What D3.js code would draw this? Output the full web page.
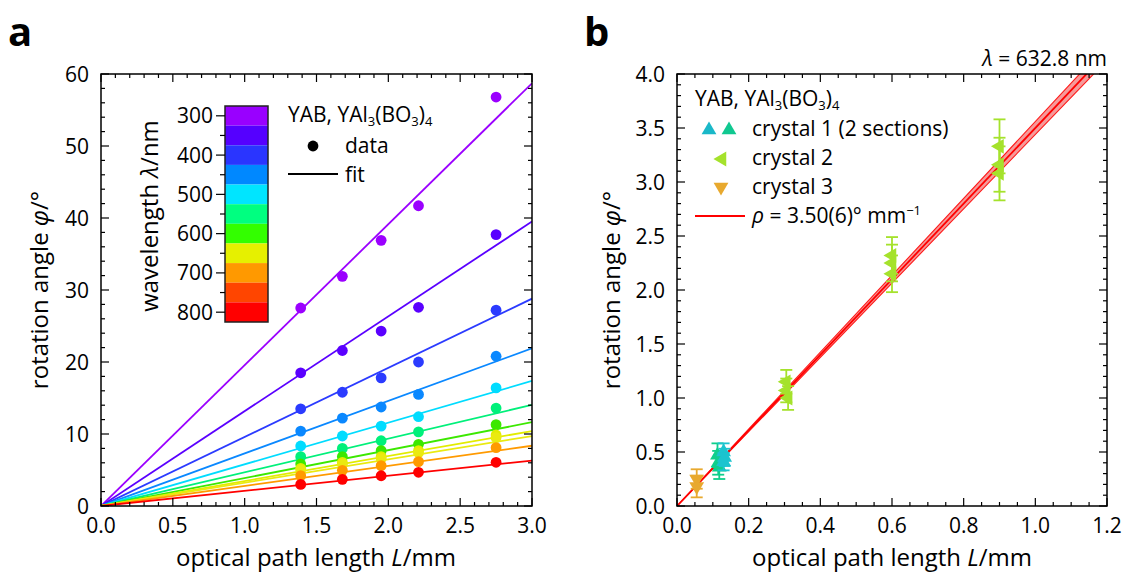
<!DOCTYPE html>
<html>
<head>
<meta charset="utf-8">
<script src="https://cdn.jsdelivr.net/npm/d3@7"></script>
<style>
  body { margin: 0; background: #fff; }
  svg text { font-family: "Open Sans", "Noto Sans", sans-serif; fill: #000; }
</style>
</head>
<body>
<div id="chart"></div>
<script>
// ---- panel a data ----
const wavelengthTicks = [300, 400, 500, 600, 700, 800];
const barColors = ["#9900ff", "#5500ff", "#2a35ff", "#0088ff", "#00e5ff", "#00ff80",
                   "#33ff00", "#e6f000", "#ff9900", "#ff4500", "#ff0000"];
const pathLengthsA = [1.39, 1.68, 1.95, 2.21, 2.75];
const seriesColors = ["#9b00ff", "#5a00ff", "#2b3bff", "#0a88ff", "#00dcff", "#00f07a",
                      "#3ce800", "#e2ec00", "#eaea10", "#ff9a00", "#ff0000"];
const rotationA = [
  [27.5, 31.9, 36.9, 41.7, 56.8],
  [18.5, 21.6, 24.3, 27.6, 37.7],
  [13.5, 15.8, 17.8, 20.0, 27.2],
  [10.4, 12.2, 13.75, 15.5, 20.8],
  [8.33, 9.72, 11.1, 12.4, 16.4],
  [6.85, 8.0, 9.07, 10.3, 13.6],
  [5.83, 6.85, 7.69, 8.56, 11.3],
  [5.23, 6.07, 6.85, 7.69, 9.86],
  [5.0, 5.8, 6.6, 7.4, 9.5],
  [4.21, 4.95, 5.6, 6.16, 8.1],
  [3.0, 3.7, 4.2, 4.68, 6.07]
];
const fitSlopes = [19.57, 13.17, 9.6, 7.3, 5.79, 4.68, 3.88, 3.47, 3.24, 2.79, 2.1];

// ---- panel b data ----
const crystal1aL = [0.113, 0.115, 0.118];
const crystal1aPhi = [0.47, 0.40, 0.36];
const crystal1aErr = [0.11, 0.11, 0.11];
const crystal1bL = [0.13, 0.133, 0.13];
const crystal1bPhi = [0.50, 0.45, 0.41];
const crystal1bErr = [0.08, 0.08, 0.08];
const crystal2L = [0.305, 0.305, 0.31, 0.6, 0.6, 0.6, 0.9, 0.9, 0.9];
const crystal2Phi = [1.15, 1.07, 1.0, 2.32, 2.25, 2.15, 3.33, 3.16, 3.08];
const crystal2Err = [0.11, 0.11, 0.11, 0.17, 0.17, 0.17, 0.25, 0.25, 0.25];
const crystal3L = [0.055, 0.055];
const crystal3Phi = [0.25, 0.18];
const crystal3Err = [0.09, 0.1];
const rho = 3.50, rhoErr = 0.06;

const tickSize = 21, legendSize = 21, titleSize = 24;

const svg = d3.select("#chart").append("svg")
  .attr("width", 1124).attr("height", 576);

// framed box with inward ticks on all four sides
function frame(g, x, y, xMinor, yMinor, w, h) {
  xMinor.forEach(v => {
    const major = Math.abs(v / g.xStep - Math.round(v / g.xStep)) < 1e-6;
    const len = major ? 8 : 4;
    g.append("line").attr("x1", x(v)).attr("x2", x(v)).attr("y1", h).attr("y2", h - len)
      .attr("stroke", "#000").attr("stroke-width", 1.2);
    g.append("line").attr("x1", x(v)).attr("x2", x(v)).attr("y1", 0).attr("y2", len)
      .attr("stroke", "#000").attr("stroke-width", 1.2);
  });
  yMinor.forEach(v => {
    const major = Math.abs(v / g.yStep - Math.round(v / g.yStep)) < 1e-6;
    const len = major ? 8 : 4;
    g.append("line").attr("y1", y(v)).attr("y2", y(v)).attr("x1", 0).attr("x2", len)
      .attr("stroke", "#000").attr("stroke-width", 1.2);
    g.append("line").attr("y1", y(v)).attr("y2", y(v)).attr("x1", w).attr("x2", w - len)
      .attr("stroke", "#000").attr("stroke-width", 1.2);
  });
  g.append("rect").attr("width", w).attr("height", h)
    .attr("fill", "none").attr("stroke", "#000").attr("stroke-width", 1.5);
}

function tickLabels(g, x, y, xMajor, yMajor, h, fmtX, fmtY) {
  xMajor.forEach(v => {
    g.append("text").attr("x", x(v)).attr("y", h + 27).attr("text-anchor", "middle")
      .attr("font-size", tickSize).text(fmtX(v));
  });
  yMajor.forEach(v => {
    g.append("text").attr("x", -12).attr("y", y(v)).attr("dy", "0.36em")
      .attr("text-anchor", "end").attr("font-size", tickSize).text(fmtY(v));
  });
}

function yabTitle(sel, x, y) {
  const t = sel.append("text").attr("x", x).attr("y", y).attr("font-size", legendSize);
  t.append("tspan").text("YAB, YAl");
  t.append("tspan").attr("font-size", 13).attr("dy", 4).text("3");
  t.append("tspan").attr("dy", -4).text("(BO");
  t.append("tspan").attr("font-size", 13).attr("dy", 4).text("3");
  t.append("tspan").attr("dy", -4).text(")");
  t.append("tspan").attr("font-size", 13).attr("dy", 4).text("4");
}

// ================= panel a =================
const aW = 431, aH = 432;
const ga = svg.append("g").attr("transform", "translate(101,74)");
const xa = d3.scaleLinear().domain([0, 3]).range([0, aW]);
const ya = d3.scaleLinear().domain([0, 60]).range([aH, 0]);
ga.xStep = 0.5; ga.yStep = 10;

ga.append("clipPath").attr("id", "clipA").append("rect").attr("width", aW).attr("height", aH);

// fit lines
ga.append("g").attr("clip-path", "url(#clipA)")
  .selectAll("line").data(fitSlopes).enter().append("line")
  .attr("x1", xa(0)).attr("y1", ya(0))
  .attr("x2", xa(3)).attr("y2", d => ya(d * 3))
  .attr("stroke", (d, i) => seriesColors[i]).attr("stroke-width", 1.8);

// data points
rotationA.forEach((row, i) => {
  ga.append("g").selectAll("circle").data(row).enter().append("circle")
    .attr("cx", (d, j) => xa(pathLengthsA[j])).attr("cy", d => ya(d))
    .attr("r", 5.4).attr("fill", seriesColors[i]);
});

frame(ga, xa, ya, d3.range(0, 3.0001, 0.1).map(v => +v.toFixed(2)),
      d3.range(0, 60.001, 2), aW, aH);
tickLabels(ga, xa, ya, d3.range(0, 3.0001, 0.5), d3.range(0, 60.001, 10), aH,
           d3.format(".1f"), d3.format("d"));

// colorbar
const cb = svg.append("g").attr("transform", "translate(225,106)");
const cbH = 216, cbW = 43;
const yc = d3.scaleLinear().domain([275, 825]).range([0, cbH]);
cb.selectAll("rect.seg").data(barColors).enter().append("rect")
  .attr("class", "seg")
  .attr("x", 0).attr("width", cbW)
  .attr("y", (d, i) => yc(275 + i * 50)).attr("height", yc(325) - yc(275))
  .attr("fill", d => d);
cb.append("rect").attr("width", cbW).attr("height", cbH)
  .attr("fill", "none").attr("stroke", "#222").attr("stroke-width", 1.5);
d3.range(300, 801, 50).forEach(v => {
  const major = v % 100 === 0;
  cb.append("line").attr("x1", major ? -9 : -5).attr("x2", 0)
    .attr("y1", yc(v)).attr("y2", yc(v)).attr("stroke", "#000").attr("stroke-width", 1.2);
});
cb.selectAll("text.wl").data(wavelengthTicks).enter().append("text")
  .attr("class", "wl").attr("x", -12).attr("y", d => yc(d)).attr("dy", "0.36em")
  .attr("text-anchor", "end").attr("font-size", tickSize).text(d => d);

const wlLabel = svg.append("text")
  .attr("transform", "translate(158,216) rotate(-90)")
  .attr("text-anchor", "middle").attr("font-size", titleSize);
wlLabel.append("tspan").text("wavelength ");
wlLabel.append("tspan").attr("font-style", "italic").text("λ");
wlLabel.append("tspan").text("/nm");

// legend a
yabTitle(svg, 288, 122);
svg.append("circle").attr("cx", 313).attr("cy", 146).attr("r", 5.4).attr("fill", "#000");
svg.append("text").attr("x", 345).attr("y", 153).attr("font-size", legendSize).text("data");
svg.append("line").attr("x1", 288).attr("x2", 338).attr("y1", 174).attr("y2", 174)
  .attr("stroke", "#000").attr("stroke-width", 1.8);
svg.append("text").attr("x", 345).attr("y", 182).attr("font-size", legendSize).text("fit");

// ================= panel b =================
const bW = 430, bH = 432;
const gb = svg.append("g").attr("transform", "translate(677,74)");
const xb = d3.scaleLinear().domain([0, 1.2]).range([0, bW]);
const yb = d3.scaleLinear().domain([0, 4]).range([bH, 0]);
gb.xStep = 0.2; gb.yStep = 0.5;

gb.append("clipPath").attr("id", "clipB").append("rect").attr("width", bW).attr("height", bH);
const fitG = gb.append("g").attr("clip-path", "url(#clipB)");
fitG.append("path")
  .datum([[0, 0], [1.2, 1.2 * (rho + rhoErr)], [1.2, 1.2 * (rho - rhoErr)]])
  .attr("d", d => "M" + d.map(p => [xb(p[0]), yb(p[1])].join(",")).join("L") + "Z")
  .attr("fill", "#f59a9a").attr("stroke", "#ff1a1a").attr("stroke-width", 1.1);
fitG.append("line").attr("x1", xb(0)).attr("y1", yb(0))
  .attr("x2", xb(1.2)).attr("y2", yb(1.2 * rho))
  .attr("stroke", "#ff0000").attr("stroke-width", 1.8);

const tri = d3.symbol().type(d3.symbolTriangle).size(95);

function errorSeries(L, phi, err, color, rotate) {
  const g = gb.append("g");
  L.forEach((l, i) => {
    const cx = xb(l);
    g.append("line").attr("x1", cx).attr("x2", cx)
      .attr("y1", yb(phi[i] - err[i])).attr("y2", yb(phi[i] + err[i]))
      .attr("stroke", color).attr("stroke-width", 1.8);
    [phi[i] - err[i], phi[i] + err[i]].forEach(v => {
      g.append("line").attr("x1", cx - 6).attr("x2", cx + 6)
        .attr("y1", yb(v)).attr("y2", yb(v))
        .attr("stroke", color).attr("stroke-width", 1.8);
    });
    g.append("path").attr("d", tri)
      .attr("transform", `translate(${cx},${yb(phi[i])}) rotate(${rotate})`)
      .attr("fill", color);
  });
}
errorSeries(crystal3L, crystal3Phi, crystal3Err, "#e8a92e", 180);
errorSeries(crystal1aL, crystal1aPhi, crystal1aErr, "#0fcf8c", 0);
errorSeries(crystal1bL, crystal1bPhi, crystal1bErr, "#1cc4cf", 0);
errorSeries(crystal2L, crystal2Phi, crystal2Err, "#a5e22c", -90);

frame(gb, xb, yb, d3.range(0, 1.2001, 0.05).map(v => +v.toFixed(2)),
      d3.range(0, 4.0001, 0.1).map(v => +v.toFixed(2)), bW, bH);
tickLabels(gb, xb, yb, d3.range(0, 1.2001, 0.2), d3.range(0, 4.0001, 0.5), bH,
           d3.format(".1f"), d3.format(".1f"));

// lambda label
const lam = svg.append("text").attr("x", 1107).attr("y", 66)
  .attr("text-anchor", "end").attr("font-size", legendSize);
lam.append("tspan").attr("font-style", "italic").text("λ");
lam.append("tspan").text(" = 632.8 nm");

// legend b
yabTitle(svg, 695, 106);
svg.append("path").attr("d", tri).attr("transform", "translate(709,130)").attr("fill", "#1ab8c8");
svg.append("path").attr("d", tri).attr("transform", "translate(729,130)").attr("fill", "#10c890");
svg.append("text").attr("x", 752).attr("y", 136).attr("font-size", legendSize).text("crystal 1 (2 sections)");
svg.append("path").attr("d", tri).attr("transform", "translate(722,159) rotate(-90)").attr("fill", "#a5e22c");
svg.append("text").attr("x", 752).attr("y", 165).attr("font-size", legendSize).text("crystal 2");
svg.append("path").attr("d", tri).attr("transform", "translate(721,187) rotate(180)").attr("fill", "#e8a92e");
svg.append("text").attr("x", 752).attr("y", 194).attr("font-size", legendSize).text("crystal 3");
svg.append("line").attr("x1", 695).attr("x2", 745).attr("y1", 216).attr("y2", 216)
  .attr("stroke", "#ff0000").attr("stroke-width", 1.8);
const rl = svg.append("text").attr("x", 752).attr("y", 223).attr("font-size", legendSize);
rl.append("tspan").attr("font-style", "italic").text("ρ");
rl.append("tspan").text(" = 3.50(6)° mm");
rl.append("tspan").attr("font-size", 13).attr("dy", -8).text("−1");

// axis titles
function yTitle(x) {
  const t = svg.append("text").attr("transform", `translate(${x},290) rotate(-90)`)
    .attr("text-anchor", "middle").attr("font-size", titleSize);
  t.append("tspan").text("rotation angle ");
  t.append("tspan").attr("font-style", "italic").text("φ");
  t.append("tspan").text("/°");
}
function xTitle(x) {
  const t = svg.append("text").attr("x", x).attr("y", 566)
    .attr("text-anchor", "middle").attr("font-size", titleSize);
  t.append("tspan").text("optical path length ");
  t.append("tspan").attr("font-style", "italic").text("L");
  t.append("tspan").text("/mm");
}
yTitle(48); yTitle(620);
xTitle(316); xTitle(892);

// panel letters
svg.append("text").attr("x", 8).attr("y", 46).attr("font-size", 40)
  .attr("font-weight", "bold").text("a");
svg.append("text").attr("x", 584).attr("y", 46).attr("font-size", 40)
  .attr("font-weight", "bold").text("b");
</script>
</body>
</html>
